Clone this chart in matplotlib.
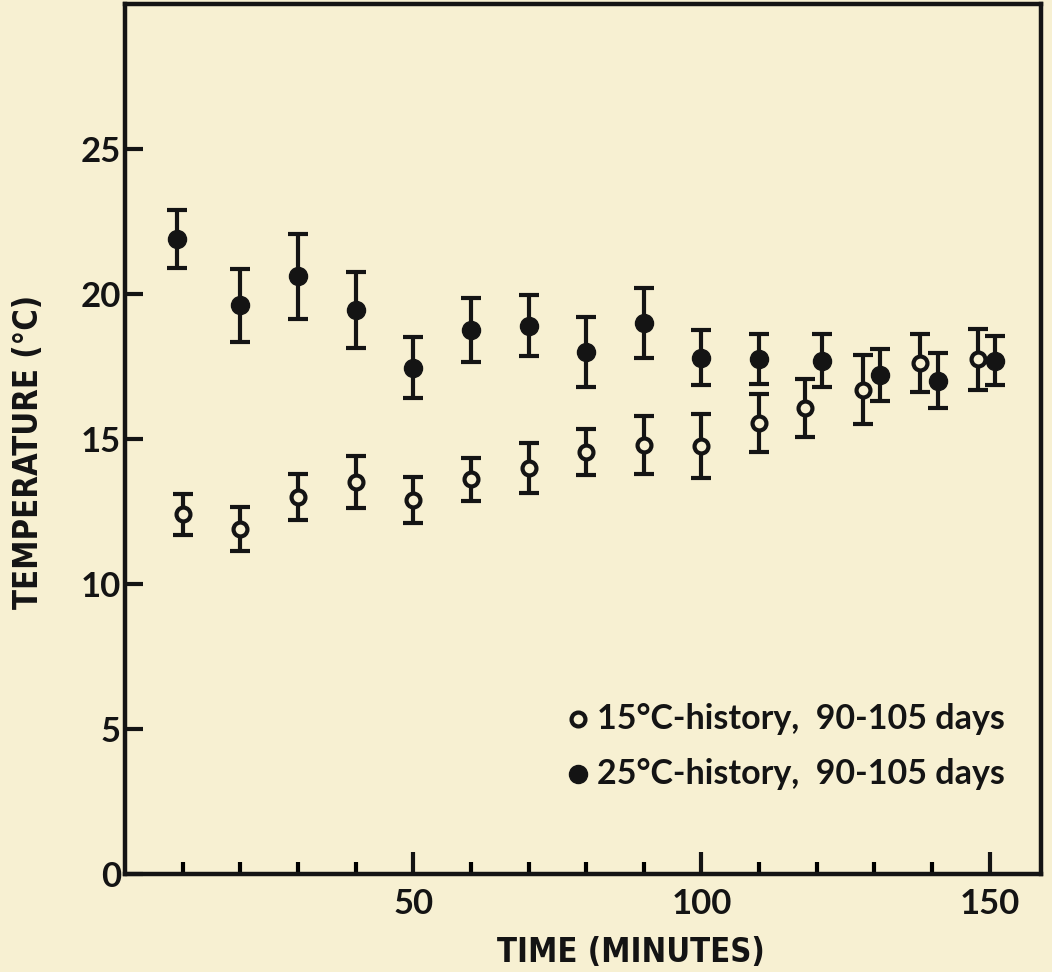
import numpy as np
import matplotlib
matplotlib.use("Agg")
import matplotlib.pyplot as plt

BG = "#f7f0d2"
INK = "#141414"

# 25 C history (filled circles)
warm_t = [9, 20, 30, 40, 50, 60, 70, 80, 90, 100, 110, 121, 131, 141, 151]
warm_temp = [21.9, 19.6, 20.6, 19.45, 17.45, 18.75, 18.9, 18.0, 19.0, 17.8, 17.75, 17.7, 17.2, 17.0, 17.7]
warm_err = [1.0, 1.25, 1.45, 1.3, 1.05, 1.1, 1.05, 1.2, 1.2, 0.95, 0.85, 0.9, 0.9, 0.95, 0.85]

# 15 C history (open circles)
cool_t = [10, 20, 30, 40, 50, 60, 70, 80, 90, 100, 110, 118, 128, 138, 148]
cool_temp = [12.4, 11.9, 13.0, 13.5, 12.9, 13.6, 14.0, 14.55, 14.8, 14.75, 15.55, 16.05, 16.7, 17.6, 17.75]
cool_err = [0.7, 0.75, 0.8, 0.9, 0.8, 0.75, 0.85, 0.8, 1.0, 1.1, 1.0, 1.0, 1.2, 1.0, 1.05]

x_major = [50, 100, 150]
x_minor = [10, 20, 30, 40, 60, 70, 80, 90, 110, 120, 130, 140]
y_ticks = [0, 5, 10, 15, 20, 25]

fig = plt.figure(figsize=(10.52, 9.72), dpi=100, facecolor=BG)
ax = fig.add_axes([0.119, 0.101, 0.871, 0.895])
ax.set_facecolor(BG)

ax.errorbar(warm_t, warm_temp, yerr=warm_err, fmt="o", color=INK, ms=13,
            elinewidth=3, capsize=7, capthick=3, zorder=3)
ax.errorbar(cool_t, cool_temp, yerr=cool_err, fmt="none", ecolor=INK,
            elinewidth=3, capsize=7, capthick=3, zorder=3)
ax.plot(cool_t, cool_temp, "o", ms=10, mfc=BG, mec=INK, mew=3, zorder=4)

ax.set_xlim(0, 159)
ax.set_ylim(0, 30)
for s in ax.spines.values():
    s.set_linewidth(3.2)
    s.set_color(INK)

ax.set_xticks(x_major)
ax.set_xticks(x_minor, minor=True)
ax.tick_params(axis="x", which="major", direction="in", length=16, width=3,
               labelsize=25, pad=10, colors=INK)
ax.tick_params(axis="x", which="minor", direction="in", length=9, width=3)
ax.set_yticks(y_ticks)
ax.tick_params(axis="y", direction="in", length=13, width=3, labelsize=25, pad=3,
               colors=INK)
for lab in ax.get_xticklabels() + ax.get_yticklabels():
    lab.set_fontweight("bold")
    lab.set_family("Lato")

lab_font = dict(fontsize=23.5, fontweight="bold", family="DejaVu Sans",
                fontstretch="condensed", color=INK)
ax.set_xlabel("TIME (MINUTES)", **lab_font)
ax.set_ylabel("TEMPERATURE (°C)", **lab_font)
ax.xaxis.set_label_coords(0.552, -0.072)
ax.yaxis.set_label_coords(-0.087, 0.485)

# legend drawn as text, as in the original figure
leg_y = [5.35, 3.45]
ax.plot([78.5], [leg_y[0]], "o", ms=10, mfc=BG, mec=INK, mew=3)
ax.plot([78.5], [leg_y[1]], "o", ms=13, color=INK)
ax.text(81.8, leg_y[0], "15°C-history,  90-105 days", fontsize=24.5, fontweight="bold",
        family="Lato", va="center", color=INK)
ax.text(81.8, leg_y[1], "25°C-history,  90-105 days", fontsize=24.5, fontweight="bold",
        family="Lato", va="center", color=INK)

fig.savefig("out.png", dpi=100, facecolor=BG)
